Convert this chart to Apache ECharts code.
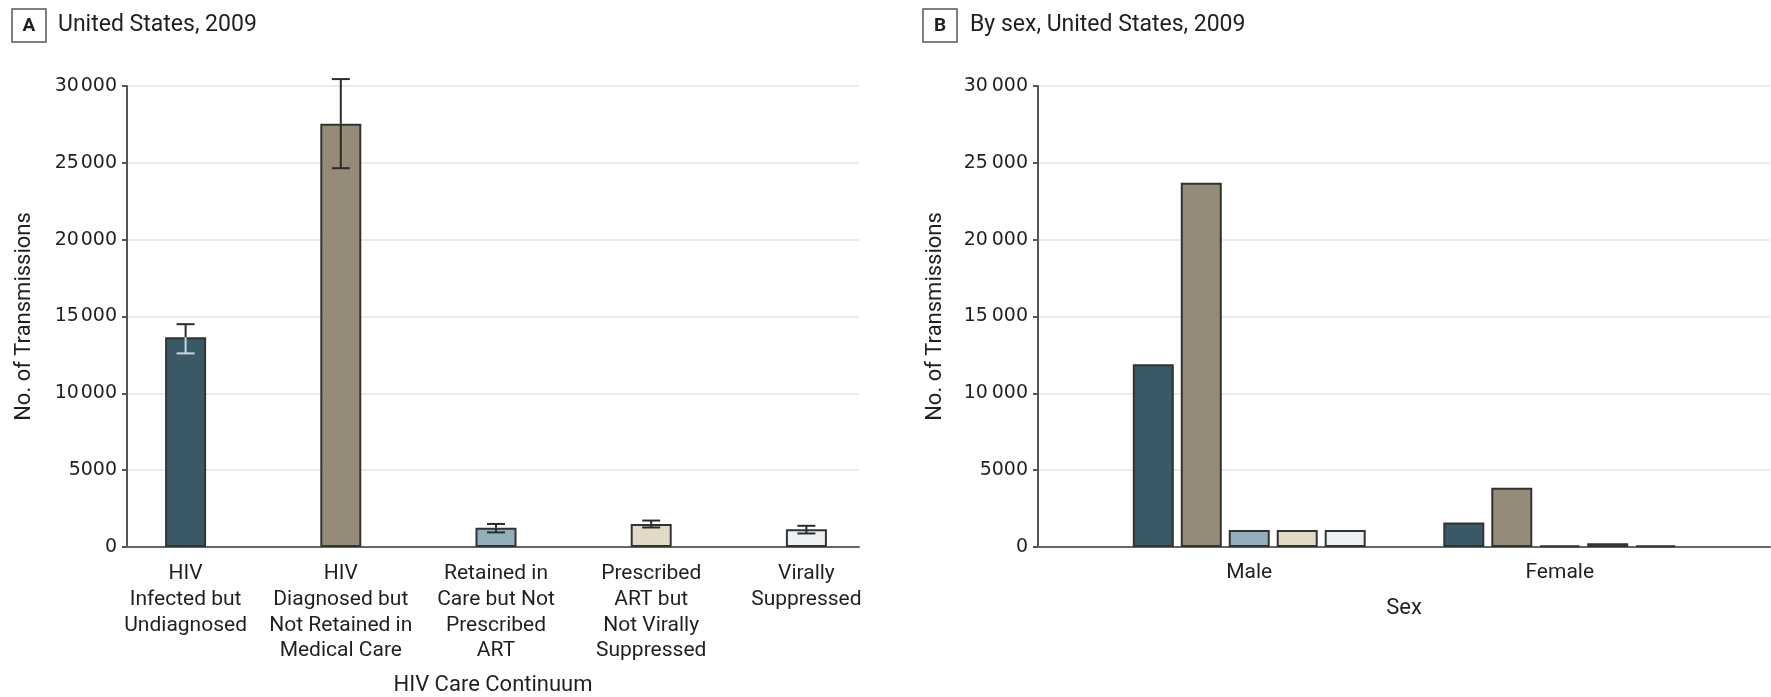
<!DOCTYPE html>
<html>
<head>
<meta charset="utf-8">
<title>HIV transmissions along the care continuum, United States, 2009</title>
<script src="https://cdn.jsdelivr.net/npm/echarts@6/dist/echarts.min.js"></script>
<style>
  html, body { margin: 0; padding: 0; background: #ffffff; }
  #chart { width: 1771px; height: 697px; }
</style>
</head>
<body>
<div id="chart"></div>
<script>
// ---- data ----
const stages = [
  'HIV\nInfected but\nUndiagnosed',
  'HIV\nDiagnosed but\nNot Retained in\nMedical Care',
  'Retained in\nCare but Not\nPrescribed\nART',
  'Prescribed\nART but\nNot Virally\nSuppressed',
  'Virally\nSuppressed'
];
// Panel A: total transmissions with uncertainty range
const totalValues = [13650, 27550, 1250, 1500, 1150];
const totalLow    = [12600, 24650, 950, 1270, 880];
const totalHigh   = [14500, 30450, 1500, 1720, 1380];

// Panel B: transmissions by sex
const sexes = ['Male', 'Female'];
const maleValues   = [11900, 23700, 1100, 1100, 1100];
const femaleValues = [1600, 3850, 100, 250, 100];

const yTicksA = ['0', '5000', '10\u200A000', '15\u200A000', '20\u200A000', '25\u200A000', '30\u200A000'];
const yTicksB = ['0', '5000', '10\u2009000', '15\u2009000', '20\u2009000', '25\u2009000', '30\u2009000'];

// ---- styling ----
const stageColors = ['#3a5966', '#968a78', '#93afbb', '#e2dac6', '#edf1f4'];
const whiskerInside = ['#c9d8dd', '#2b2b2b', '#2b2b2b', '#2b2b2b', '#2b2b2b'];
const FONT = 'Roboto, "Noto Sans", sans-serif';
const NUM_FONT = '"DejaVu Sans", Roboto, sans-serif';
const TXT = '#231f20';
const barBorder = { borderColor: '#333333', borderWidth: 2 };

const chart = echarts.init(document.getElementById('chart'), null, { renderer: 'canvas' });

function valueAxis(gridIndex, ticks, showAll) {
  return {
    type: 'value', gridIndex: gridIndex, min: 0, max: 30000, interval: 5000,
    show: showAll,
    name: showAll ? 'No. of Transmissions' : '',
    nameLocation: 'middle', nameGap: 92,
    nameTextStyle: { fontFamily: FONT, fontSize: 22, color: TXT },
    axisLine: { show: true, lineStyle: { color: '#555555', width: 2 } },
    axisTick: { show: true, length: 5, lineStyle: { color: '#555555', width: 2 } },
    axisLabel: {
      fontFamily: NUM_FONT, fontSize: 19, color: TXT, margin: 10,
      formatter: function (v) { return ticks[Math.round(v / 5000)]; }
    },
    splitLine: { show: true, lineStyle: { color: '#ebebeb', width: 2 } }
  };
}

// error whiskers for panel A
function renderWhisker(params, api) {
  const i = params.dataIndex;
  const low = api.value(1), high = api.value(2);
  const x = api.coord([i, 0])[0];
  const yHigh = api.coord([i, high])[1];
  const yLow = api.coord([i, low])[1];
  const yBar = api.coord([i, totalValues[i]])[1];
  const half = 9;
  const dark = { stroke: '#2b2b2b', lineWidth: 2 };
  const inner = { stroke: whiskerInside[i], lineWidth: 2 };
  return {
    type: 'group',
    children: [
      { type: 'line', shape: { x1: x, y1: yHigh, x2: x, y2: yBar }, style: dark },
      { type: 'line', shape: { x1: x, y1: yBar, x2: x, y2: yLow }, style: inner },
      { type: 'line', shape: { x1: x - half, y1: yHigh, x2: x + half, y2: yHigh }, style: dark },
      { type: 'line', shape: { x1: x - half, y1: yLow, x2: x + half, y2: yLow }, style: inner }
    ]
  };
}

const seriesB = stages.map(function (name, k) {
  return {
    name: name.replace(/\n/g, ' '),
    type: 'bar', xAxisIndex: 3, yAxisIndex: 3,
    barWidth: 41, barGap: '17%',
    itemStyle: Object.assign({ color: stageColors[k] }, barBorder),
    data: [maleValues[k], femaleValues[k]]
  };
});

const option = {
  backgroundColor: '#ffffff',
  animation: false,
  grid: [
    { left: 127, right: 912, top: 86, bottom: 150, outerBoundsMode: 'none', containLabel: false },  // panel A frame
    { left: 108, right: 887, top: 86, bottom: 150, outerBoundsMode: 'none', containLabel: false },  // panel A bars
    { left: 1038, right: 1, top: 86, bottom: 150, outerBoundsMode: 'none', containLabel: false },   // panel B frame
    { left: 1094, right: 56, top: 86, bottom: 150, outerBoundsMode: 'none', containLabel: false }   // panel B bars
  ],
  xAxis: [
    { type: 'category', gridIndex: 0, data: ['a'],
      axisLine: { lineStyle: { color: '#666666', width: 2 } },
      axisTick: { show: false }, axisLabel: { show: false },
      name: 'HIV Care Continuum', nameLocation: 'middle', nameGap: 127,
      nameTextStyle: { fontFamily: FONT, fontSize: 22, color: TXT } },
    { type: 'category', gridIndex: 1, data: stages,
      axisLine: { show: false }, axisTick: { show: false },
      axisLabel: { interval: 0, fontFamily: FONT, fontSize: 21, color: TXT,
                   lineHeight: 25.7, margin: 14 } },
    { type: 'category', gridIndex: 2, data: ['b'],
      axisLine: { lineStyle: { color: '#666666', width: 2 } },
      axisTick: { show: false }, axisLabel: { show: false },
      name: 'Sex', nameLocation: 'middle', nameGap: 50,
      nameTextStyle: { fontFamily: FONT, fontSize: 22, color: TXT } },
    { type: 'category', gridIndex: 3, data: sexes,
      axisLine: { show: false }, axisTick: { show: false },
      axisLabel: { interval: 0, fontFamily: FONT, fontSize: 21, color: TXT, margin: 15 } }
  ],
  yAxis: [
    valueAxis(0, yTicksA, true),
    valueAxis(1, yTicksA, false),
    valueAxis(2, yTicksB, true),
    valueAxis(3, yTicksB, false)
  ],
  series: [
    {
      name: 'Transmissions', type: 'bar', xAxisIndex: 1, yAxisIndex: 1,
      barWidth: 41,
      data: totalValues.map(function (v, i) {
        return { value: v, itemStyle: Object.assign({ color: stageColors[i] }, barBorder) };
      })
    },
    {
      name: 'Range', type: 'custom', xAxisIndex: 1, yAxisIndex: 1, z: 5,
      renderItem: renderWhisker,
      encode: { x: 0, y: [1, 2] },
      data: totalLow.map(function (l, i) { return [i, l, totalHigh[i]]; })
    }
  ].concat(seriesB),
  graphic: [
    { type: 'rect', shape: { x: 12, y: 9, width: 34, height: 33 },
      style: { fill: 'none', stroke: '#555555', lineWidth: 1.5 } },
    { type: 'text', x: 29, y: 26, style: { text: 'A', fontFamily: FONT, fontWeight: 'bold',
      fontSize: 19, fill: TXT, align: 'center', verticalAlign: 'middle' } },
    { type: 'text', x: 58, y: 25, style: { text: 'United States, 2009', fontFamily: FONT,
      fontSize: 23, fill: TXT, align: 'left', verticalAlign: 'middle' } },
    { type: 'rect', shape: { x: 923, y: 9, width: 34, height: 33 },
      style: { fill: 'none', stroke: '#555555', lineWidth: 1.5 } },
    { type: 'text', x: 940, y: 26, style: { text: 'B', fontFamily: FONT, fontWeight: 'bold',
      fontSize: 19, fill: TXT, align: 'center', verticalAlign: 'middle' } },
    { type: 'text', x: 970, y: 25, style: { text: 'By sex, United States, 2009', fontFamily: FONT,
      fontSize: 23, fill: TXT, align: 'left', verticalAlign: 'middle' } }
  ]
};

chart.setOption(option);
</script>
</body>
</html>
